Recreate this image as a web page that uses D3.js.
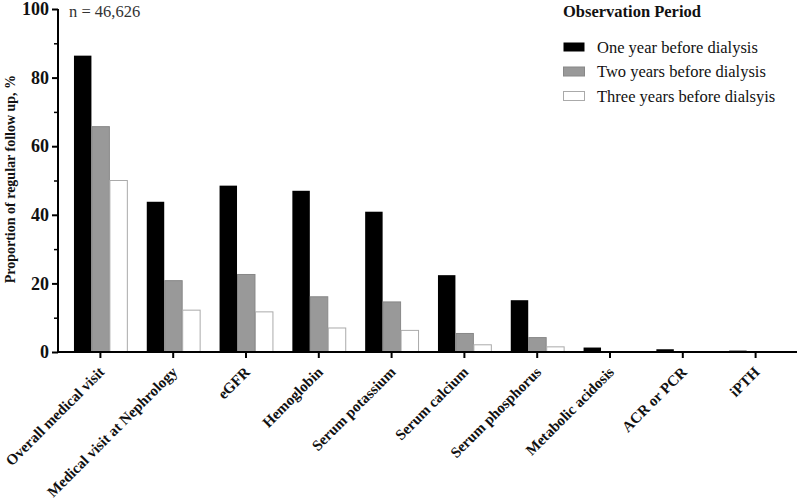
<!DOCTYPE html>
<html><head><meta charset="utf-8">
<script src="https://cdn.jsdelivr.net/npm/d3@7/dist/d3.min.js"></script>
<style>body{margin:0;background:#fff}svg{display:block}</style>
</head><body>
<script>
const categories = ["Overall medical visit","Medical visit at Nephrology","eGFR","Hemoglobin","Serum potassium","Serum calcium","Serum phosphorus","Metabolic acidosis","ACR or PCR","iPTH"];
const seriesNames = ["One year before dialysis","Two years before dialysis","Three years before dialsyis"];
const oneYear = [86.4, 43.8, 48.5, 47.0, 40.9, 22.4, 15.1, 1.3, 0.8, 0.4];
const twoYears = [65.7, 20.8, 22.6, 16.1, 14.6, 5.4, 4.2, 0.1, 0.05, 0.05];
const threeYears = [50.0, 12.2, 11.7, 7.0, 6.3, 2.1, 1.5, 0.05, 0.02, 0.02];
const yTicks = [0, 20, 40, 60, 80, 100];
const yMinorTicks = [10, 30, 50, 70, 90];

const W = 800, H = 501;
const fills = ["#000000", "#999999", "#ffffff"];
const strokes = ["#000000", "#888888", "#aaaaaa"];
const series = [oneYear, twoYears, threeYears];
const font = "'Liberation Serif','Times New Roman',serif";

const svg = d3.select("body").append("svg").attr("width", W).attr("height", H).style("font-family", font);

const x = d3.scaleBand().domain(categories).range([64, 792]).paddingInner(0.26).paddingOuter(0.13);
const x1 = d3.scaleBand().domain([0,1,2]).range([0, x.bandwidth()]);
const y = d3.scaleLinear().domain([0, 100]).range([352, 9]);

// bars
const g = svg.append("g");
categories.forEach((c, i) => {
  series.forEach((s, k) => {
    const v = s[i];
    g.append("rect")
      .attr("x", x(c) + x1(k) + 0.5)
      .attr("y", y(v))
      .attr("width", x1.bandwidth() - 0.5)
      .attr("height", y(0) - y(v))
      .attr("fill", fills[k])
      .attr("stroke", strokes[k])
      .attr("stroke-width", k === 0 ? 0 : 1);
  });
});

// y axis
const yAxis = svg.append("g").attr("transform", "translate(58,0)")
  .call(d3.axisLeft(y).tickValues(yTicks).tickSize(6).tickPadding(3).tickFormat(d3.format("d")));
yAxis.select(".domain").attr("stroke", "#000").attr("stroke-width", 2).attr("d", `M0,${y(100)}V${y(0)}`);
yAxis.selectAll(".tick line").attr("stroke-width", 2);
yAxis.selectAll("text").style("font-size", "18px").style("font-weight", "bold").style("font-family", font).attr("fill", "#111");
svg.append("g").attr("transform", "translate(58,0)")
  .call(d3.axisLeft(y).tickValues(yMinorTicks).tickSize(4).tickFormat(""))
  .call(s => s.select(".domain").remove())
  .selectAll(".tick line").attr("stroke-width", 1.5);

// x axis
const xAxis = svg.append("g").attr("transform", `translate(0,${y(0)})`)
  .call(d3.axisBottom(x).tickSize(6).tickPadding(8));
xAxis.select(".domain").attr("stroke-width", 2).attr("d", "M57,0H797");
xAxis.selectAll(".tick line").attr("stroke-width", 2);
xAxis.selectAll("text")
  .style("font-size", "15px").style("font-weight", "bold").style("font-family", font).attr("fill", "#111")
  .attr("text-anchor", "end")
  .attr("y", 0)
  .attr("dy", "0")
  .attr("transform", "translate(5,21) rotate(-45)");

// y title
svg.append("text")
  .attr("transform", `translate(15,${y(50.4)}) rotate(-90)`)
  .attr("text-anchor", "middle")
  .style("font-size", "14px").style("font-weight", "bold").attr("fill", "#111")
  .text("Proportion of regular follow up, %");

// n label
svg.append("text").attr("x", 69).attr("y", 17)
  .style("font-size", "16.5px").attr("fill", "#333").text("n = 46,626");

// legend
svg.append("text").attr("x", 563).attr("y", 17)
  .style("font-size", "16.5px").style("font-weight", "bold").attr("fill", "#111").text("Observation Period");
seriesNames.forEach((n, k) => {
  const cy = 47 + k * 24.5;
  svg.append("rect").attr("x", 563.5).attr("y", cy - 4.5).attr("width", 21).attr("height", 9)
    .attr("fill", fills[k]).attr("stroke", strokes[k]).attr("stroke-width", k === 0 ? 0 : 1);
  svg.append("text").attr("x", 597).attr("y", cy + 5.5)
    .style("font-size", "16.5px").attr("fill", "#111").text(n);
});
</script>
</body></html>
